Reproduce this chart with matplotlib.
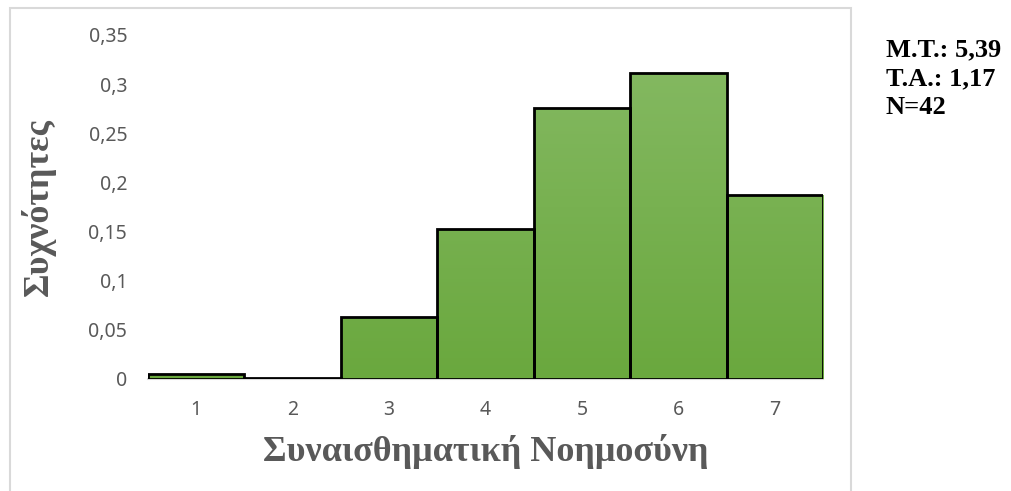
import numpy as np
import matplotlib.pyplot as plt
from matplotlib.patches import Rectangle
from matplotlib.colors import LinearSegmentedColormap

categories = [1, 2, 3, 4, 5, 6, 7]
freqs = [0.005, 0.001, 0.063, 0.153, 0.276, 0.311, 0.187]
y_ticks = [0, 0.05, 0.1, 0.15, 0.2, 0.25, 0.3, 0.35]
y_tick_labels = ['0', '0,05', '0,1', '0,15', '0,2', '0,25', '0,3', '0,35']
stats_text = ['M.T.: 5,39', 'T.A.: 1,17', 'N=42']

fig = plt.figure(figsize=(10.11, 4.91), dpi=100)
ax = fig.add_axes([148 / 1011, 112 / 491, 675 / 1011, 344 / 491])

# outer chart frame
fig.patches.append(Rectangle((10 / 1011, -0.05), 841 / 1011, 1.05 - 8 / 491,
                             transform=fig.transFigure, fill=False,
                             edgecolor='#d9d9d9', linewidth=1.5))

grad = LinearSegmentedColormap.from_list('g', ['#6aa83e', '#86ba64'])
bars = ax.bar(categories, freqs, width=1.0, color='none', edgecolor='black',
              linewidth=2, zorder=3)
for b in bars:
    x0 = b.get_x()
    w = b.get_width()
    im = ax.imshow(np.linspace(0, 1, 100).reshape(-1, 1), cmap=grad,
                   extent=[x0, x0 + w, 0, 0.35], origin='lower',
                   aspect='auto', zorder=2)
    im.set_clip_path(b)

ax.set_xlim(0.5, 7.5)
ax.set_ylim(0, 0.35)
ax.set_aspect('auto')
for s in ['top', 'right', 'left']:
    ax.spines[s].set_visible(False)
ax.spines['bottom'].set_color('#d9d9d9')
ax.spines['bottom'].set_linewidth(1.5)
ax.spines['bottom'].set_zorder(1)

ax.set_xticks(categories)
ax.set_xticklabels([str(c) for c in categories])
ax.set_yticks(y_ticks)
ax.set_yticklabels(y_tick_labels)
ax.tick_params(length=0, labelcolor='#595959', labelsize=14)
ax.tick_params(axis='y', pad=15)
ax.tick_params(axis='x', pad=15)
for lab in ax.get_xticklabels() + ax.get_yticklabels():
    lab.set_fontfamily('Noto Sans')

ax.set_xlabel('Συναισθηματική Νοημοσύνη', fontfamily='Liberation Serif',
              fontweight='bold', fontsize=26, color='#595959')
ax.set_ylabel('Συχνότητες', fontfamily='Liberation Serif',
              fontweight='bold', fontsize=26, color='#595959')
ax.xaxis.set_label_coords(0.5, -0.212)
ax.yaxis.set_label_coords(-0.163, 0.5)
ax.xaxis.label.set_va('center')
ax.yaxis.label.set_va('center')

for i, t in enumerate(stats_text):
    fig.text(886 / 1011, 1 - (50 + 29 * i) / 491, t,
             fontfamily='Liberation Serif', fontweight='bold', fontsize=19,
             color='black', va='center', ha='left')

fig.savefig('out.png', dpi=100)
